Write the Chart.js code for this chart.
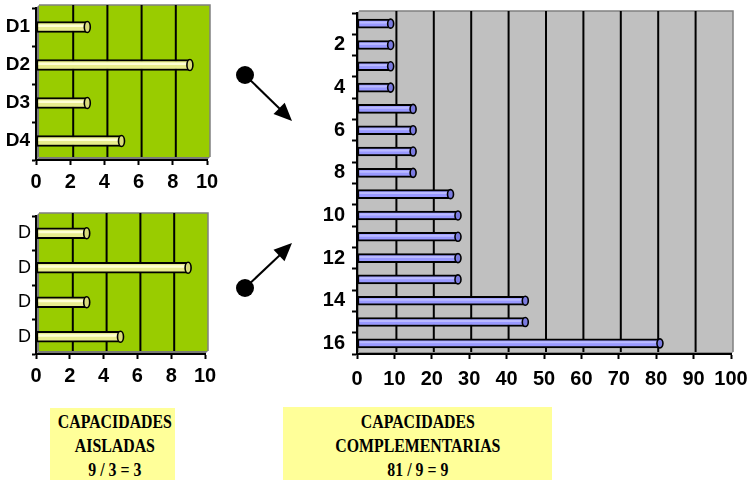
<!DOCTYPE html>
<html>
<head>
<meta charset="utf-8">
<script src="https://cdn.jsdelivr.net/npm/chart.js@4"></script>
<style>
  html, body { margin: 0; padding: 0; background: #fff; }
  #stage { position: relative; width: 752px; height: 480px; overflow: hidden; }
  canvas.layer { position: absolute; left: 0; top: 0; }
  svg.arrows { position: absolute; left: 0; top: 0; }
  .box {
    position: absolute; background: #FFFF99; color: #000; text-align: center;
    font: bold 18px "Times New Roman", "Liberation Serif", serif; line-height: 24px;
    box-sizing: border-box; padding-top: 2px; white-space: nowrap;
  }
  .box span { display: inline-block; transform: scaleX(0.88); transform-origin: 50% 50%; }
</style>
</head>
<body>
<div id="stage">
  <canvas id="isolatedTop" class="layer" width="752" height="480"></canvas>
  <canvas id="isolatedBottom" class="layer" width="752" height="480"></canvas>
  <canvas id="complementary" class="layer" width="752" height="480"></canvas>

  <svg class="arrows" width="752" height="480">
    <circle cx="245" cy="75" r="9" fill="#000"/>
    <line x1="245" y1="75" x2="281" y2="110" stroke="#000" stroke-width="2"/>
    <polygon points="292,121 273.5,114.1 284.7,102.7" fill="#000"/>
    <circle cx="245" cy="288" r="9" fill="#000"/>
    <line x1="245" y1="288" x2="281" y2="254" stroke="#000" stroke-width="2"/>
    <polygon points="292,243 284.5,261.3 273.5,249.7" fill="#000"/>
  </svg>

  <div class="box" style="left:50px;top:408px;width:125px;height:72px;"><span>CAPACIDADES<br>AISLADAS<br>9 / 3 = 3</span></div>
  <div class="box" style="left:283px;top:407px;width:269px;height:73px;padding-top:3px;"><span>CAPACIDADES<br>COMPLEMENTARIAS<br>81 / 9 = 9</span></div>
</div>

<script>
// Isolated capabilities D1..D4
const isolatedLabels = ['D1', 'D2', 'D3', 'D4'];
const isolatedLabelsShort = ['D', 'D', 'D', 'D'];
const isolatedValues = [3, 9, 3, 5];
const isolatedMax = 10;
const isolatedStep = 2;

// Complementary capabilities: the 16 pairwise combinations
const pairLabels = ['1', '2', '3', '4', '5', '6', '7', '8', '9', '10', '11', '12', '13', '14', '15', '16'];
const pairValues = [9, 9, 9, 9, 15, 15, 15, 15, 25, 27, 27, 27, 27, 45, 45, 81];
const pairMax = 100;
const pairStep = 10;

const SANS = 'Arial, "Liberation Sans", sans-serif';
const W = 752, H = 480;

// Back wall with 3D depth, gridlines drawn on the wall
const wallPlugin = {
  id: 'wall',
  beforeDraw(chart, args, o) {
    const { ctx, chartArea: a } = chart;
    const d = o.depth;
    const xs = chart.scales.x;
    ctx.save();
    // side wall and floor
    ctx.fillStyle = o.sideColor;
    ctx.beginPath();
    ctx.moveTo(a.left, a.top); ctx.lineTo(a.left + d, a.top - d);
    ctx.lineTo(a.left + d, a.bottom - d); ctx.lineTo(a.left, a.bottom); ctx.closePath(); ctx.fill();
    ctx.beginPath();
    ctx.moveTo(a.left, a.bottom); ctx.lineTo(a.left + d, a.bottom - d);
    ctx.lineTo(a.right + d, a.bottom - d); ctx.lineTo(a.right, a.bottom); ctx.closePath(); ctx.fill();
    // back wall
    ctx.fillStyle = o.wallColor;
    ctx.fillRect(a.left + d, a.top - d, a.right - a.left, a.bottom - a.top);
    ctx.strokeStyle = '#808080';
    ctx.lineWidth = 1.5;
    ctx.beginPath();
    ctx.moveTo(a.left + d, a.top - d); ctx.lineTo(a.right + d, a.top - d); ctx.lineTo(a.right + d, a.bottom - d);
    ctx.stroke();
    // gridlines
    ctx.strokeStyle = '#000';
    ctx.lineWidth = 2;
    xs.ticks.forEach(t => {
      if (t.value <= xs.min || t.value >= xs.max) return;
      const px = xs.getPixelForValue(t.value) + d;
      ctx.beginPath(); ctx.moveTo(px, a.top - d); ctx.lineTo(px, a.bottom - d); ctx.stroke();
    });
    ctx.restore();
  }
};

// Cylinder look: highlight along each bar and an elliptical end cap
const tubePlugin = {
  id: 'tube',
  afterDatasetsDraw(chart, args, o) {
    const { ctx } = chart;
    const meta = chart.getDatasetMeta(0);
    ctx.save();
    meta.data.forEach(bar => {
      const { x, y, base, height } = bar.getProps(['x', 'y', 'base', 'height'], true);
      ctx.strokeStyle = o.highlight;
      ctx.lineWidth = Math.max(1.5, height * 0.22);
      ctx.beginPath(); ctx.moveTo(base + 2, y - height * 0.12); ctx.lineTo(x - 3, y - height * 0.12); ctx.stroke();
      ctx.beginPath();
      ctx.ellipse(x, y, 3, height / 2, 0, 0, Math.PI * 2);
      ctx.fillStyle = o.cap;
      ctx.fill();
      ctx.strokeStyle = '#000';
      ctx.lineWidth = 1.6;
      ctx.stroke();
    });
    ctx.restore();
  }
};

function tubeChart(id, labels, values, s) {
  const a = s.area;
  const xHeight = 46;
  return new Chart(document.getElementById(id), {
    type: 'bar',
    data: {
      labels: labels,
      datasets: [{
        data: values,
        backgroundColor: s.barColor,
        borderColor: '#000',
        borderWidth: 2,
        borderSkipped: false,
        barThickness: s.barThickness
      }]
    },
    plugins: [wallPlugin, tubePlugin],
    options: {
      indexAxis: 'y',
      responsive: false,
      animation: false,
      events: [],
      layout: { padding: { left: 0, top: a.top, right: W - a.right, bottom: H - a.bottom - xHeight } },
      plugins: {
        legend: { display: false },
        title: { display: false },
        tooltip: { enabled: false },
        wall: { depth: s.depth, wallColor: s.wallColor, sideColor: s.sideColor },
        tube: { highlight: s.highlight, cap: s.cap }
      },
      scales: {
        x: {
          type: 'linear', min: 0, max: s.max,
          ticks: { stepSize: s.step, color: '#000', font: { family: SANS, size: s.xFont, weight: 'bold' }, padding: s.xPad, maxRotation: 0 },
          grid: { drawOnChartArea: false, drawTicks: true, tickLength: 5, tickColor: '#000', tickWidth: 2 },
          border: { display: true, color: '#000', width: 2 },
          afterFit(scale) { scale.height = xHeight; scale.paddingLeft = 0; scale.paddingRight = 0; }
        },
        y: {
          type: 'category', offset: true,
          ticks: {
            color: '#000', autoSkip: false, padding: s.yPad,
            font: { family: SANS, size: s.yFont, weight: s.yWeight },
            callback(v, i) { return s.showLabel(i) ? labels[i] : ''; }
          },
          grid: { offset: true, drawOnChartArea: false, drawTicks: true, tickLength: s.yTick, tickColor: '#000', tickWidth: 2 },
          border: { display: true, color: '#000', width: 2 },
          afterFit(scale) { scale.width = a.left; scale.paddingTop = 0; scale.paddingBottom = 0; }
        }
      }
    }
  });
}

const greenStyle = {
  depth: 3, wallColor: '#99CC00', sideColor: '#7a7a7a',
  barColor: '#E8EC8E', highlight: 'rgba(255,255,215,0.95)', cap: '#D9DD7C',
  barThickness: 11, max: isolatedMax, step: isolatedStep,
  xFont: 20, xPad: 5, yFont: 19, yPad: 2, yTick: 4
};

tubeChart('isolatedTop', isolatedLabels, isolatedValues, Object.assign({}, greenStyle, {
  area: { left: 36, right: 207, top: 8, bottom: 160 },
  yWeight: 'bold', showLabel: () => true
}));

tubeChart('isolatedBottom', isolatedLabelsShort, isolatedValues, Object.assign({}, greenStyle, {
  area: { left: 36, right: 205, top: 216, bottom: 354 },
  yWeight: 'normal', yFont: 18, yPad: 1, showLabel: () => true
}));

tubeChart('complementary', pairLabels, pairValues, {
  area: { left: 357, right: 731, top: 13, bottom: 354 },
  depth: 2, wallColor: '#C0C0C0', sideColor: '#8a8a8a',
  barColor: '#9999FF', highlight: 'rgba(190,190,255,0.9)', cap: '#7B7BE0',
  barThickness: 9, max: pairMax, step: pairStep,
  xFont: 20, xPad: 8, yFont: 20, yPad: 7, yTick: 5,
  yWeight: 'bold', showLabel: i => (i + 1) % 2 === 0
});
</script>
</body>
</html>
